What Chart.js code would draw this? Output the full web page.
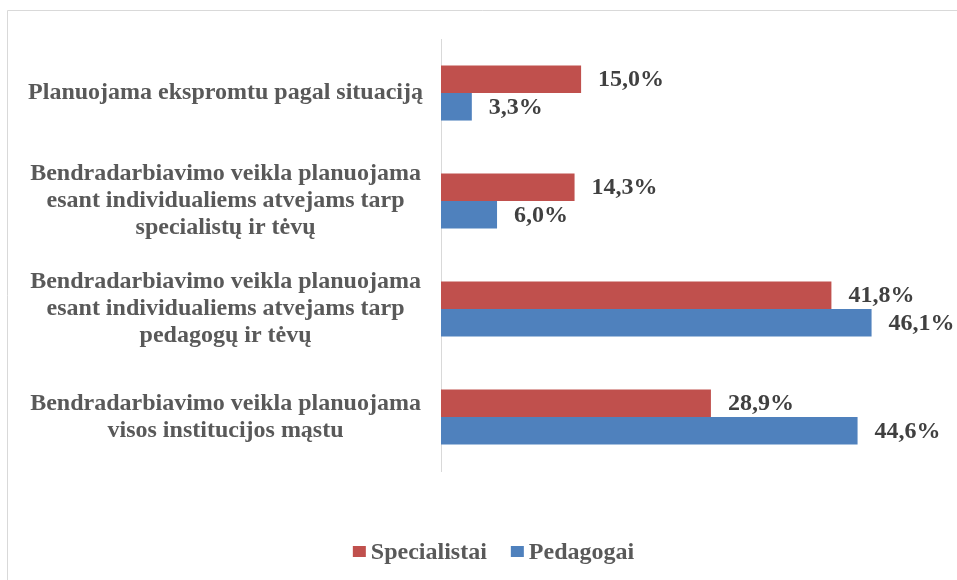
<!DOCTYPE html>
<html>
<head>
<meta charset="utf-8">
<script src="https://cdn.jsdelivr.net/npm/chart.js@4/dist/chart.umd.min.js"></script>
<style>
  html, body { margin: 0; padding: 0; background: #fff; }
  #wrap { position: relative; width: 957px; height: 580px; }
</style>
</head>
<body>
<div id="wrap"><canvas id="c" width="957" height="580"></canvas></div>
<script>
const categories = [
  ["Planuojama ekspromtu pagal situaciją"],
  ["Bendradarbiavimo veikla planuojama", "esant individualiems atvejams tarp", "specialistų ir tėvų"],
  ["Bendradarbiavimo veikla planuojama", "esant individualiems atvejams tarp", "pedagogų ir tėvų"],
  ["Bendradarbiavimo veikla planuojama", "visos institucijos mąstu"]
];
const seriesNames = ["Specialistai", "Pedagogai"];
const specialistai = [15.0, 14.3, 41.8, 28.9];
const pedagogai = [3.3, 6.0, 46.1, 44.6];
const seriesColors = ["#C0504D", "#4F81BD"];

const FONT = "'Liberation Serif', 'Times New Roman', serif";

const borderPlugin = {
  id: 'frame',
  beforeDraw(chart) {
    const ctx = chart.ctx;
    ctx.save();
    ctx.strokeStyle = '#D9D9D9';
    ctx.lineWidth = 1;
    ctx.beginPath();
    ctx.moveTo(7.5, 580);
    ctx.lineTo(7.5, 10.5);
    ctx.lineTo(957, 10.5);
    ctx.stroke();
    ctx.restore();
  }
};

const valueLabels = {
  id: 'valueLabels',
  afterDatasetsDraw(chart) {
    const ctx = chart.ctx;
    ctx.save();
    ctx.font = "bold 24px " + FONT;
    ctx.fillStyle = '#404040';
    ctx.textAlign = 'left';
    ctx.textBaseline = 'middle';
    chart.data.datasets.forEach((ds, di) => {
      const meta = chart.getDatasetMeta(di);
      meta.data.forEach((bar, i) => {
        const v = ds.data[i];
        const txt = v.toFixed(1).replace('.', ',') + '%';
        ctx.fillText(txt, bar.x + 17, bar.y + 1);
      });
    });
    ctx.restore();
  }
};

const customLegend = {
  id: 'customLegend',
  afterDraw(chart) {
    const ctx = chart.ctx;
    ctx.save();
    ctx.font = "bold 24px " + FONT;
    const boxW = 13, boxH = 11, gapBT = 5, itemGap = 24;
    const items = chart.data.datasets.map(ds => ({ text: ds.label, color: ds.backgroundColor, w: ctx.measureText(ds.label).width }));
    let total = 0;
    items.forEach((it, i) => { total += boxW + gapBT + it.w + (i < items.length - 1 ? itemGap : 0); });
    const cx = 493.5, cy = 551.5;
    let x = cx - total / 2;
    ctx.textBaseline = 'middle';
    ctx.textAlign = 'left';
    items.forEach(it => {
      ctx.fillStyle = it.color;
      ctx.fillRect(x, cy - boxH / 2, boxW, boxH);
      x += boxW + gapBT;
      ctx.fillStyle = '#595959';
      ctx.fillText(it.text, x, cy + 1);
      x += it.w + itemGap;
    });
    ctx.restore();
  }
};

new Chart(document.getElementById('c'), {
  type: 'bar',
  data: {
    labels: categories,
    datasets: [
      { label: seriesNames[0], data: specialistai, backgroundColor: seriesColors[0] },
      { label: seriesNames[1], data: pedagogai, backgroundColor: seriesColors[1] }
    ]
  },
  options: {
    indexAxis: 'y',
    responsive: false,
    animation: false,
    layout: { padding: { top: 39, bottom: 109, right: 49, left: 0 } },
    datasets: { bar: { categoryPercentage: 0.51, barPercentage: 1.0 } },
    plugins: { legend: { display: false }, tooltip: { enabled: false } },
    scales: {
      x: { display: false, min: 0, max: 50 },
      y: {
        grid: { display: false },
        border: { display: true, color: '#D9D9D9', width: 1 },
        ticks: {
          crossAlign: 'center',
          padding: 10,
          color: '#595959',
          font: { family: FONT, size: 24, weight: 'bold', lineHeight: 1.125 }
        },
        afterFit(scale) {
          scale.width = 441;
          scale.paddingTop = 0;
          scale.paddingBottom = 0;
        }
      }
    }
  },
  plugins: [borderPlugin, valueLabels, customLegend]
});
</script>
</body>
</html>
